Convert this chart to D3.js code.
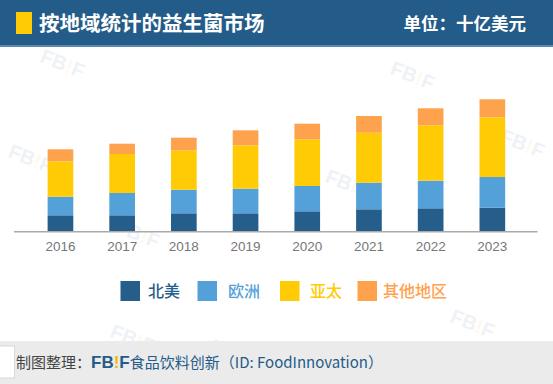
<!DOCTYPE html>
<html><head><meta charset="utf-8">
<script src="https://cdn.jsdelivr.net/npm/d3@7/dist/d3.min.js"></script>
<style>
html,body{margin:0;padding:0;background:#fff;}
svg{display:block;}
</style></head>
<body>
<script>
const years = ["2016","2017","2018","2019","2020","2021","2022","2023"];
const northAmerica = [8.1, 8.1, 9.1, 9.1, 10.1, 11.1, 11.6, 11.9];
const europe       = [9.3, 11.15, 11.8, 12.3, 12.65, 13.3, 13.8, 15.35];
const asiaPacific  = [17.7, 19.5, 19.7, 21.7, 23.35, 25.0, 27.7, 29.85];
const otherRegions = [6.0, 5.15, 6.3, 7.5, 7.8, 8.35, 8.5, 9.0];
const seriesNames  = ["北美","欧洲","亚太","其他地区"];
const seriesColors = ["#255d8b","#54a1da","#ffcb05","#ffa24e"];
const titleText = "按地域统计的益生菌市场";
const unitText = "单位：十亿美元";

const W = 553, H = 384;
const svg = d3.select("body").append("svg").attr("width", W).attr("height", H);
const cjk = "'Noto Sans CJK SC','Noto Sans',sans-serif";

// watermarks
const wm = [[410,82],[28,165],[135,240],[345,190],[520,150],[230,360],[130,345],[470,330],[60,70]];
wm.forEach(([x,y])=>{
  const g = svg.append("g").attr("transform",`translate(${x},${y}) rotate(22)`).attr("opacity",0.07);
  const t = g.append("text").attr("font-family","'Liberation Sans',Arial,sans-serif").attr("font-weight","bold").attr("font-size",20).attr("text-anchor","middle");
  t.append("tspan").attr("fill","#245c8a").text("FB");
  t.append("tspan").attr("fill","#f5b800").text("!");
  t.append("tspan").attr("fill","#245c8a").text("F");
});

// header
svg.append("rect").attr("x",0).attr("y",0).attr("width",W).attr("height",45).attr("fill","#245c89");
svg.append("rect").attr("x",0).attr("y",45).attr("width",W).attr("height",2).attr("fill","#5e87ad");
svg.append("rect").attr("x",16).attr("y",12).attr("width",16).attr("height",22).attr("fill","#ffcb05");
svg.append("text").attr("x",39).attr("y",31).attr("fill","#fff").attr("font-family",cjk).attr("font-weight","bold").attr("font-size",20.5).text(titleText);
svg.append("text").attr("x",526).attr("y",30).attr("text-anchor","end").attr("fill","#fff").attr("font-family",cjk).attr("font-weight","bold").attr("font-size",17.5).text(unitText);

// chart
const x = d3.scaleBand().domain(years).range([29.6, 523.2]).paddingInner(0.584).paddingOuter(0.292);
const y = d3.scaleLinear().domain([0, 70]).range([231.5, 91.5]);

const rows = years.map((yr,i)=>({year:yr, s0:northAmerica[i], s1:europe[i], s2:asiaPacific[i], s3:otherRegions[i]}));
const stack = d3.stack().keys(["s0","s1","s2","s3"])(rows);

svg.append("g").selectAll("g").data(stack).join("g")
  .attr("fill",(d,i)=>seriesColors[i])
  .selectAll("rect").data(d=>d).join("rect")
  .attr("x",d=>x(d.data.year))
  .attr("y",d=>y(d[1]))
  .attr("width",x.bandwidth())
  .attr("height",d=>y(d[0])-y(d[1]));

const xAxis = svg.append("g").attr("transform","translate(0,231.5)")
  .call(d3.axisBottom(x).tickSize(0).tickPadding(10));
xAxis.select(".domain").remove();
xAxis.selectAll("text").attr("fill","#777").attr("font-size",13.5).attr("font-family","'Liberation Sans',Arial,sans-serif");
svg.append("line").attr("x1",14).attr("x2",537.5).attr("y1",231.7).attr("y2",231.7).attr("stroke","#aaa").attr("stroke-width",1.5);

// legend
const legendX = [[120.5,148],[197.5,228],[280,310],[357.5,383]];
seriesNames.forEach((n,i)=>{
  svg.append("rect").attr("x",legendX[i][0]).attr("y",281).attr("width",19.5).attr("height",20).attr("fill",seriesColors[i]);
  svg.append("text").attr("x",legendX[i][1]).attr("y",297).attr("fill",seriesColors[i]).attr("font-family",cjk).attr("font-weight","500").attr("font-size",16).text(n);
});

// footer
svg.append("rect").attr("x",0).attr("y",341).attr("width",W).attr("height",43).attr("fill","#ebebeb");
svg.append("rect").attr("x",-1).attr("y",346).attr("width",15.5).attr("height",32).attr("fill","#fff").attr("stroke","#d8d8d8");
const ft = svg.append("text").attr("x",16).attr("y",368).attr("font-family",cjk).attr("font-size",15);
ft.append("tspan").attr("fill","#444").text("制图整理：");
ft.append("tspan").attr("fill","#245c89").attr("font-weight","bold").attr("font-family","'Liberation Sans',Arial,sans-serif").attr("font-size",17).text("FB");
ft.append("tspan").attr("fill","#f5b800").attr("font-weight","bold").attr("font-family","'Liberation Sans',Arial,sans-serif").attr("font-size",17).text("!");
ft.append("tspan").attr("fill","#245c89").attr("font-weight","bold").attr("font-family","'Liberation Sans',Arial,sans-serif").attr("font-size",17).text("F");
ft.append("tspan").attr("fill","#245c89").text("食品饮料创新（ID: FoodInnovation）");
</script>
</body></html>
